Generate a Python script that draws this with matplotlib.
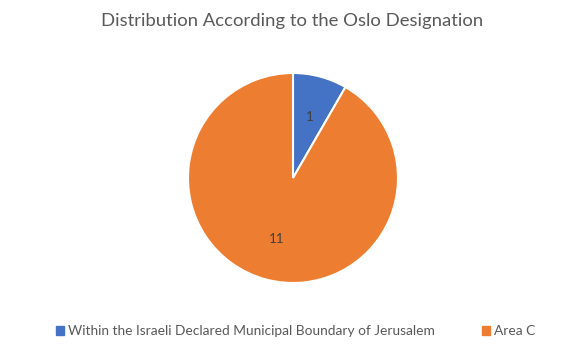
import matplotlib
matplotlib.use('Agg')
import matplotlib.pyplot as plt

# ==== data
categories = ['Within the Israeli Declared Municipal Boundary of Jerusalem', 'Area C']
values = [1, 11]
colors = ['#4472C4', '#ED7D31']
title = 'Distribution According to the Oslo Designation'

plt.rcParams['font.family'] = ['Lato', 'DejaVu Sans']

fig = plt.figure(figsize=(5.84, 3.54), dpi=100)
ax = fig.add_axes([0.3219, 0.2006, 0.3596, 0.5932])

wedges, texts = ax.pie(values, colors=colors, startangle=90, counterclock=False,
                       labels=[str(v) for v in values], labeldistance=0.6,
                       wedgeprops=dict(edgecolor='white', linewidth=1.5),
                       textprops=dict(color='#404040', fontsize=9.5))
for t in texts:
    t.set_ha('center')
    t.set_va('center')
for w in wedges:
    w.set_clip_on(False)
ax.set_xlim(-1, 1)
ax.set_ylim(-1, 1)
ax.set_aspect('equal')

fig.text(0.5, 0.94, title, ha='center', va='center', fontsize=13.3, color='#595959')

handles = [plt.Rectangle((0, 0), 1, 1, color=c) for c in colors]
fig.legend(handles, categories, loc='center', bbox_to_anchor=(0.506, 0.065), ncol=2,
           frameon=False, fontsize=9.9, labelcolor='#595959',
           handlelength=0.6, handleheight=0.6, handletextpad=0.3, columnspacing=3.4)

fig.savefig('out.png', dpi=100)
